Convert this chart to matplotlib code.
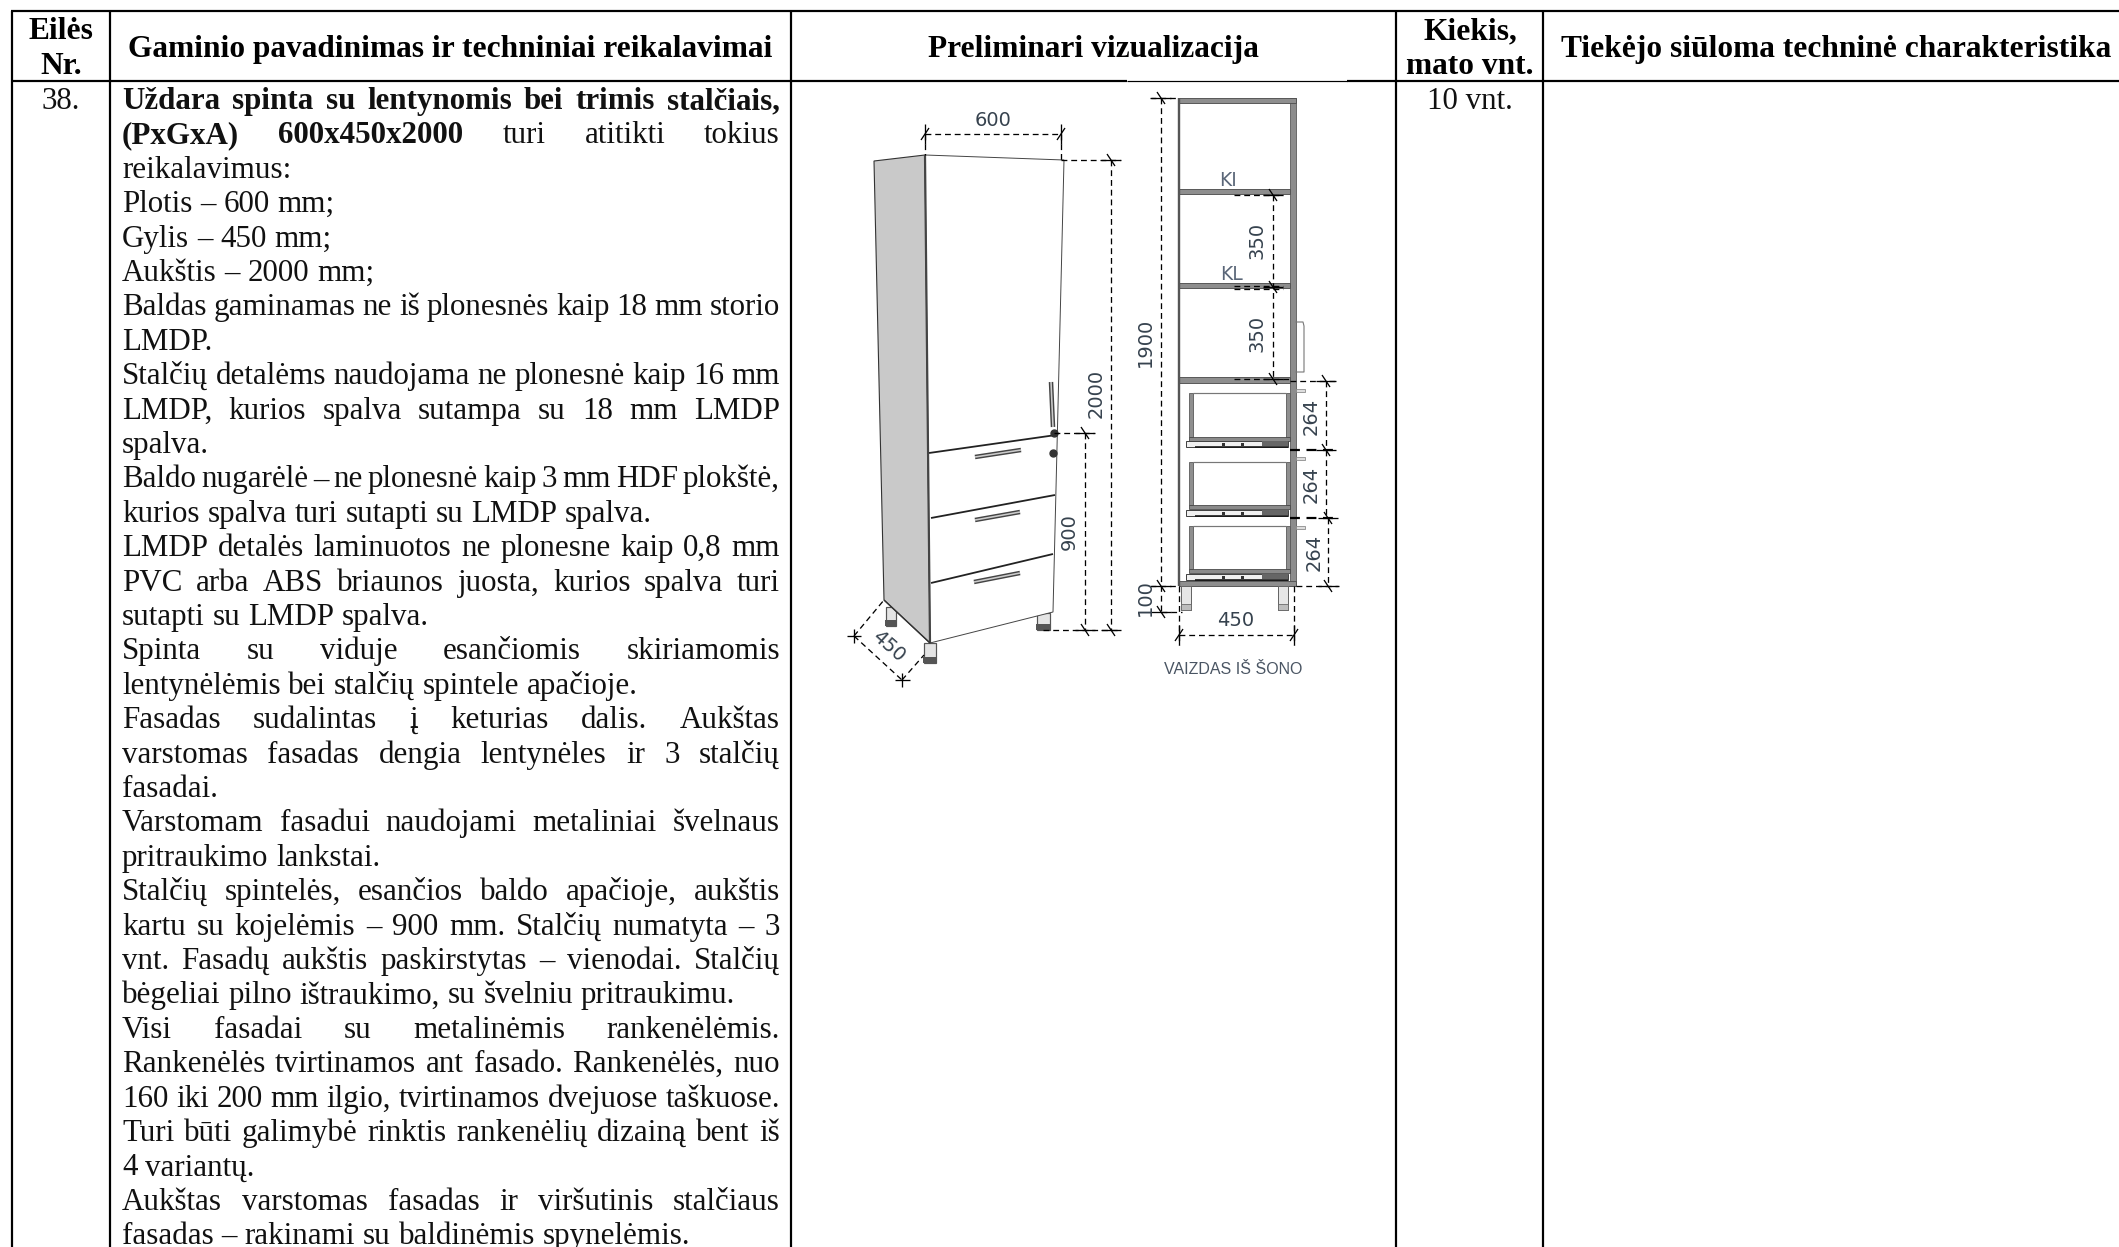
import matplotlib
matplotlib.use('Agg')
import matplotlib.pyplot as plt
from matplotlib.patches import Polygon, Rectangle

SERIF = 'Liberation Serif'
BODY_SIZE = 22.3
DIM_COLOR = '#36424e'

col_edges = [12, 110, 791, 1396, 1543]
row_edges = [11, 81]

headers = ['Eilės\nNr.', 'Gaminio pavadinimas ir techniniai reikalavimai', 'Preliminari vizualizacija',
           'Kiekis,\nmato vnt.', 'Tiekėjo siūloma techninė charakteristika']
row_number = '38.'
row_quantity = '10 vnt.'

# (text, number of bold words at the start, justified to the right edge)
body_lines = [
    ('Uždara spinta su lentynomis bei trimis stalčiais,', 7, True),
    ('(PxGxA) 600x450x2000 turi atitikti tokius', 2, True),
    ('reikalavimus:', 0, False),
    ('Plotis – 600 mm;', 0, False),
    ('Gylis – 450 mm;', 0, False),
    ('Aukštis – 2000 mm;', 0, False),
    ('Baldas gaminamas ne iš plonesnės kaip 18 mm storio', 0, True),
    ('LMDP.', 0, False),
    ('Stalčių detalėms naudojama ne plonesnė kaip 16 mm', 0, True),
    ('LMDP, kurios spalva sutampa su 18 mm LMDP', 0, True),
    ('spalva.', 0, False),
    ('Baldo nugarėlė – ne plonesnė kaip 3 mm HDF plokštė,', 0, True),
    ('kurios spalva turi sutapti su LMDP spalva.', 0, False),
    ('LMDP detalės laminuotos ne plonesne kaip 0,8 mm', 0, True),
    ('PVC arba ABS briaunos juosta, kurios spalva turi', 0, True),
    ('sutapti su LMDP spalva.', 0, False),
    ('Spinta su viduje esančiomis skiriamomis', 0, True),
    ('lentynėlėmis bei stalčių spintele apačioje.', 0, False),
    ('Fasadas sudalintas į keturias dalis. Aukštas', 0, True),
    ('varstomas fasadas dengia lentynėles ir 3 stalčių', 0, True),
    ('fasadai.', 0, False),
    ('Varstomam fasadui naudojami metaliniai švelnaus', 0, True),
    ('pritraukimo lankstai.', 0, False),
    ('Stalčių spintelės, esančios baldo apačioje, aukštis', 0, True),
    ('kartu su kojelėmis – 900 mm. Stalčių numatyta – 3', 0, True),
    ('vnt. Fasadų aukštis paskirstytas – vienodai. Stalčių', 0, True),
    ('bėgeliai pilno ištraukimo, su švelniu pritraukimu.', 0, False),
    ('Visi fasadai su metalinėmis rankenėlėmis.', 0, True),
    ('Rankenėlės tvirtinamos ant fasado. Rankenėlės, nuo', 0, True),
    ('160 iki 200 mm ilgio, tvirtinamos dvejuose taškuose.', 0, True),
    ('Turi būti galimybė rinktis rankenėlių dizainą bent iš', 0, True),
    ('4 variantų.', 0, False),
    ('Aukštas varstomas fasadas ir viršutinis stalčiaus', 0, True),
    ('fasadas – rakinami su baldinėmis spynelėmis.', 0, False),
]

fig = plt.figure(figsize=(21.19, 12.47), dpi=100)
ax = fig.add_axes([0, 0, 1, 1])
ax.set_xlim(0, 2119)
ax.set_ylim(1247, 0)
ax.axis('off')
renderer = fig.canvas.get_renderer()


def line(xs, ys, px=1.0, color='black', z=3, **kw):
    ax.plot(xs, ys, color=color, lw=px * 0.72, solid_capstyle='butt', zorder=z, **kw)


def dashed(x0, y0, x1, y1, px=1.3):
    ax.plot([x0, x1], [y0, y1], color='black', lw=px * 0.72, dashes=(4.5, 3), zorder=5)


def cross(x, y, vertical=True):
    # dimension end mark: a long stroke across the line and a short slash
    if vertical:
        line([x - 10, x + 10], [y, y], 1.3, z=6)
    else:
        line([x, x], [y - 10, y + 10], 1.3, z=6)
    line([x - 4, x + 4], [y + 6, y - 6] if not vertical else [y - 6, y + 6], 1.3, z=6)


def dim_text(x, y, s, rotation=90, size=14):
    ax.text(x, y, s, family='DejaVu Sans', fontsize=size, color=DIM_COLOR, rotation=rotation,
            rotation_mode='anchor', ha='center', va='center', zorder=7)


def rect(x0, y0, x1, y1, fc, ec='none', px=1.0, z=2):
    ax.add_patch(Rectangle((x0, y0), x1 - x0, y1 - y0, facecolor=fc, edgecolor=ec, lw=px * 0.72, zorder=z))


def draw_table():
    for y in row_edges:
        line([col_edges[0] - 1, 2119], [y, y], 2.2)
    for x in col_edges:
        line([x, x], [row_edges[0], 1247], 2.2)
    # the pasted picture covers part of the top rule of the row
    rect(1127, 79, 1347, 83, 'white', z=3.5)
    line([1127, 1347], [80.5, 80.5], 1.2, z=3.6)


def draw_header():
    kw = dict(family=SERIF, weight='bold', fontsize=22.6, ha='center', va='center', linespacing=1.25)
    ax.text(61, 49, headers[0], **kw)
    ax.text(450, 50, headers[1], **kw)
    ax.text(1093, 50, headers[2], **kw)
    ax.text(1470, 49, headers[3], **kw)
    ax.text(1836, 50, headers[4], **kw)


def word(x, y, s, bold):
    t = ax.text(x, y, s, family=SERIF, fontsize=BODY_SIZE, weight='bold' if bold else 'normal',
                ha='left', va='baseline', color='#111111')
    return t, t.get_window_extent(renderer).width


def draw_body():
    left, right = 122, 780
    space = 7.8
    for i, (text, n_bold, justified) in enumerate(body_lines):
        y = 109 + i * 34.4
        words = text.split(' ')
        placed = [word(left, y, w, j < n_bold) for j, w in enumerate(words)]
        total = sum(p[1] for p in placed)
        gap = (right - left - total) / (len(words) - 1) if justified else space
        x = left
        for t, w in placed:
            t.set_x(x)
            x += w + gap
    ax.text(61, 109, row_number, family=SERIF, fontsize=BODY_SIZE, ha='center', va='baseline', color='#111111')
    ax.text(1470, 109, row_quantity, family=SERIF, fontsize=BODY_SIZE, ha='center', va='baseline', color='#111111')


def draw_left_view():
    ax.add_patch(Polygon([(874, 161), (925, 155), (930, 643), (884, 600)], facecolor='#c9c9c9',
                         edgecolor='#333333', lw=0.8, zorder=2))
    ax.add_patch(Polygon([(925, 155), (1064, 160), (1053, 612), (930, 643)], facecolor='white',
                         edgecolor='#444444', lw=0.7, zorder=2))
    line([925, 930], [155, 643], 2.2, '#444444')
    line([884, 930], [600, 643], 1.4, '#333333')
    for a, b in [((929, 453), (1056, 435)), ((931, 518), (1055, 495)), ((931, 583), (1053, 554))]:
        line([a[0], b[0]], [a[1], b[1]], 1.8, '#222222')
    for a, b in [((975, 457), (1021, 450)), ((975, 520), (1020, 512)), ((974, 582), (1020, 573))]:
        line([a[0], b[0]], [a[1], b[1]], 4.5, '#444444')
        line([a[0], b[0]], [a[1], b[1]], 1.6, '#cccccc', z=3.2)
    line([1051, 1053], [382, 427], 4.5, '#444444')
    line([1051, 1053], [382, 427], 1.6, '#cccccc', z=3.2)
    ax.plot([1054, 1053], [433, 453], 'o', color='#333333', ms=5, zorder=4)
    for x0, x1, y0, y1 in [(924, 936, 643, 663), (886, 896, 607, 626), (1037, 1050, 613, 630)]:
        rect(x0, y0, x1, y1, '#e4e4e4', '#555555', 1.2, z=1.5)
        rect(x0 - 1, y1 - 6, x1 + 1, y1, '#555555', z=1.6)

    # 600
    dashed(925, 134, 1061, 134)
    dashed(925, 134, 925, 155)
    dashed(1061, 134, 1061, 160)
    cross(925, 134, False)
    cross(1061, 134, False)
    dim_text(993, 120, '600', 0)
    # 2000
    dashed(1111, 160, 1111, 630)
    dashed(1061, 160, 1120, 160)
    dashed(1043, 630, 1120, 630)
    cross(1111, 160)
    cross(1111, 630)
    dim_text(1096, 393, '2000')
    # 900
    dashed(1085, 433, 1085, 630)
    dashed(1054, 433, 1094, 433)
    cross(1085, 433)
    cross(1085, 630)
    dim_text(1069, 532, '900')
    # 450 along the floor
    dashed(854, 636, 902, 680)
    dashed(854, 636, 884, 600)
    dashed(902, 680, 924, 655)
    line([847, 861], [636, 636], 1.3)
    line([854, 854], [629, 643], 1.3)
    line([895, 910], [680, 680], 1.3)
    line([902, 902], [673, 687], 1.3)
    dim_text(889, 646, '450', -42)


def draw_drawer(top, bottom, runner_top):
    rect(1189, top, 1193, bottom, '#8f8f8f', '#555555', 0.8)
    rect(1286, top, 1290, bottom, '#8f8f8f', '#555555', 0.8)
    line([1193, 1286], [top, top], 1.2, '#777777')
    rect(1189, bottom, 1290, bottom + 4, '#8a8a8a', '#444444', 0.8)
    rect(1186, runner_top, 1288, runner_top + 6, '#f0f0f0', '#444444', 1.0)
    line([1195, 1288], [runner_top + 6, runner_top + 6], 1.6, '#111111')
    rect(1262, runner_top, 1288, runner_top + 5, '#666666', z=2.5)
    for x in [1222, 1241]:
        rect(x, runner_top + 2, x + 3, runner_top + 5, '#333333', z=2.5)


def draw_side_view():
    line([1179, 1179], [98, 586], 2.4, '#555555')
    rect(1290, 98, 1296, 586, '#8c8c8c', '#555555', 0.8)
    for y0, y1 in [(98, 103), (189, 194), (283, 288), (377, 383), (581, 586)]:
        rect(1179, y0, 1296 if y0 in (98, 581) else 1290, y1, '#8e8e8e', '#505050', 0.9)
    draw_drawer(393, 437, 441)
    draw_drawer(462, 505, 510)
    draw_drawer(526, 569, 574)
    # handles seen from the side
    ax.plot([1296, 1303, 1304, 1304, 1296], [322, 322, 326, 372, 372], color='#777777', lw=0.8, zorder=2)
    for y in [390, 458, 527]:
        rect(1296, y - 1, 1305, y + 2, '#dddddd', '#888888', 0.8)
    for x0, x1 in [(1181, 1191), (1278, 1288)]:
        rect(x0, 586, x1, 610, '#e6e6e6', '#666666', 1.0)
        rect(x0, 604, x1, 610, '#bdbdbd', '#666666', 0.8)

    # 1900 and 100
    dashed(1161, 98, 1161, 612)
    dashed(1150, 98, 1179, 98)
    cross(1161, 98)
    cross(1161, 586)
    cross(1161, 612)
    dashed(1150, 586, 1179, 586)
    dashed(1161, 612, 1182, 612)
    dim_text(1145, 342, '1900')
    dim_text(1145, 598, '100')
    # 450
    dashed(1179, 635, 1294, 635)
    dashed(1179, 586, 1179, 645)
    dashed(1294, 586, 1294, 645)
    cross(1179, 635, False)
    cross(1294, 635, False)
    dim_text(1236, 620, '450', 0)
    # 350 twice
    dashed(1273, 195, 1273, 380)
    dashed(1234, 195, 1283, 195)
    dashed(1234, 286, 1283, 286)
    dashed(1234, 289, 1283, 289)
    dashed(1234, 379, 1290, 379)
    cross(1273, 195)
    cross(1273, 287)
    cross(1273, 379)
    dim_text(1257, 240, '350')
    dim_text(1257, 333, '350')
    ax.text(1228, 181, 'KI', family='DejaVu Sans', fontsize=13.5, color='#5a6678', ha='center', va='center', zorder=1)
    ax.text(1231, 275, 'KL', family='DejaVu Sans', fontsize=13.5, color='#5a6678', ha='center', va='center', zorder=1)
    # 264 three times
    dashed(1326, 381, 1326, 450)
    dashed(1326, 450, 1326, 518)
    dashed(1328, 518, 1328, 586)
    dashed(1290, 381, 1337, 381)
    dashed(1290, 450, 1337, 450, 2.2)
    dashed(1290, 518, 1339, 518, 2.2)
    dashed(1296, 586, 1339, 586)
    cross(1326, 381)
    cross(1326, 450)
    cross(1328, 518)
    cross(1328, 586)
    dim_text(1311, 416, '264')
    dim_text(1311, 484, '264')
    dim_text(1314, 552, '264')
    ax.text(1233, 670, 'VAIZDAS IŠ ŠONO', family='Liberation Sans', fontsize=11.5, color='#4a5563',
            ha='center', va='center', zorder=7)


def main():
    draw_table()
    draw_header()
    draw_body()
    draw_left_view()
    draw_side_view()
    fig.savefig('out.png', dpi=100)


if __name__ == '__main__':
    main()
